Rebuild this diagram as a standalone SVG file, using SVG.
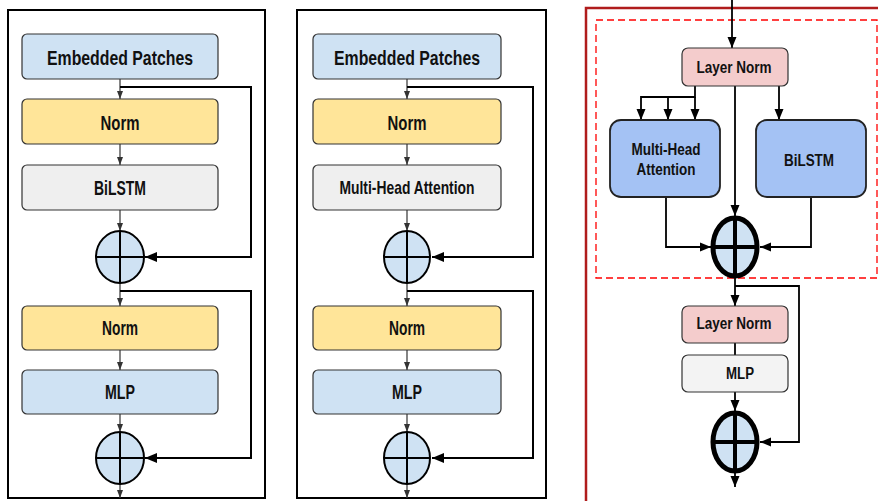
<svg xmlns="http://www.w3.org/2000/svg" width="878" height="501" viewBox="0 0 878 501">
<defs>
<style>
.panel{fill:#fff;stroke:#000;stroke-width:2}
.box{stroke:#333;stroke-width:1.2}
.blue{fill:#cfe2f3}
.yel{fill:#ffe599}
.gray{fill:#efefef}
.pink{fill:#f4cccc}
.mid{fill:#a4c2f4}
.t{font-family:"Liberation Sans",Arial,sans-serif;font-weight:bold;fill:#111;text-anchor:middle}
.big{font-size:21px}
.sm{font-size:16px}
.thin{fill:none;stroke:#333;stroke-width:1.2}
.fb{fill:none;stroke:#000;stroke-width:2}
.rl{fill:none;stroke:#000;stroke-width:1.8}
.circ{fill:#cfe2f3;stroke:#000;stroke-width:2}
.cross{stroke:#000;stroke-width:2}
.circB{fill:#cfe2f3;stroke:#000;stroke-width:5}
.crossB{stroke:#000;stroke-width:4}
</style>
<marker id="as" markerUnits="userSpaceOnUse" markerWidth="8" markerHeight="8" viewBox="0 0 8 8" refX="8" refY="4" orient="auto"><path d="M0,1 L8,4 L0,7 Z" fill="#333"/></marker>
<marker id="ab" markerUnits="userSpaceOnUse" markerWidth="12" markerHeight="12" viewBox="0 0 12 12" refX="12" refY="6" orient="auto"><path d="M0,1 L12,6 L0,11 Z" fill="#000"/></marker>
<marker id="ar" markerUnits="userSpaceOnUse" markerWidth="11" markerHeight="11" viewBox="0 0 11 11" refX="11" refY="5.5" orient="auto"><path d="M0,1 L11,5.5 L0,10 Z" fill="#000"/></marker>
</defs>

<!-- Panel frames -->
<rect x="8" y="10" width="257" height="488" class="panel"/>
<rect x="297" y="10" width="249" height="488" class="panel"/>
<rect x="586" y="8" width="300" height="500" fill="#fff" stroke="#b01c1c" stroke-width="2.5"/>
<rect x="596" y="20" width="281" height="258" fill="none" stroke="#ff0000" stroke-width="1.3" stroke-dasharray="7,4"/>

<!-- Connectors -->
<g id="connectors">
  <line x1="120" y1="79" x2="120" y2="99" class="thin" marker-end="url(#as)"/>
  <line x1="120" y1="144" x2="120" y2="165" class="thin" marker-end="url(#as)"/>
  <line x1="120" y1="210" x2="120" y2="231" class="thin" marker-end="url(#as)"/>
  <line x1="120" y1="283" x2="120" y2="306" class="thin" marker-end="url(#as)"/>
  <line x1="120" y1="350" x2="120" y2="370" class="thin" marker-end="url(#as)"/>
  <line x1="120" y1="414" x2="120" y2="432" class="thin" marker-end="url(#as)"/>
  <line x1="120" y1="484" x2="120" y2="498" class="thin" marker-end="url(#as)"/>
  <path d="M120,87 H251 V257 H145" class="fb" marker-end="url(#ab)"/>
  <path d="M120,291 H251 V458 H145" class="fb" marker-end="url(#ab)"/>
  <line x1="407" y1="79" x2="407" y2="99" class="thin" marker-end="url(#as)"/>
  <line x1="407" y1="144" x2="407" y2="165" class="thin" marker-end="url(#as)"/>
  <line x1="407" y1="210" x2="407" y2="231" class="thin" marker-end="url(#as)"/>
  <line x1="407" y1="283" x2="407" y2="306" class="thin" marker-end="url(#as)"/>
  <line x1="407" y1="350" x2="407" y2="370" class="thin" marker-end="url(#as)"/>
  <line x1="407" y1="414" x2="407" y2="432" class="thin" marker-end="url(#as)"/>
  <line x1="407" y1="484" x2="407" y2="498" class="thin" marker-end="url(#as)"/>
  <path d="M407,87 H533 V257 H432" class="fb" marker-end="url(#ab)"/>
  <path d="M407,291 H533 V458 H432" class="fb" marker-end="url(#ab)"/>
  <line x1="732" y1="0" x2="732" y2="48" class="rl" marker-end="url(#ar)"/>
  <path d="M695,86 V97 H641 V120" class="rl" marker-end="url(#ar)"/>
  <line x1="668" y1="97" x2="668" y2="120" class="rl" marker-end="url(#ar)"/>
  <line x1="695" y1="97" x2="695" y2="120" class="rl" marker-end="url(#ar)"/>
  <line x1="779" y1="86" x2="779" y2="120" class="rl" marker-end="url(#ar)"/>
  <line x1="735" y1="86" x2="735" y2="216" class="rl" marker-end="url(#ar)"/>
  <path d="M666,197 V247 H711" class="rl" marker-end="url(#ar)"/>
  <path d="M811,197 V247 H760" class="rl" marker-end="url(#ar)"/>
  <line x1="735" y1="278" x2="735" y2="306" class="rl" marker-end="url(#ar)"/>
  <path d="M735,286 H799 V442 H760" class="rl" marker-end="url(#ar)"/>
  <line x1="735" y1="343" x2="735" y2="355" class="rl"/>
  <line x1="735" y1="392" x2="735" y2="411" class="rl" marker-end="url(#ar)"/>
  <line x1="735" y1="472" x2="735" y2="487" class="rl" marker-end="url(#ar)"/>
</g>

<!-- Left panel nodes -->
<g id="l-embed"><rect x="22" y="34" width="196" height="45" rx="5" class="box blue"/><text x="120" y="65" class="t big" textLength="146" lengthAdjust="spacingAndGlyphs">Embedded Patches</text></g>
<g id="l-norm1"><rect x="22" y="99" width="196" height="45" rx="5" class="box yel"/><text x="120" y="130" class="t big" textLength="39" lengthAdjust="spacingAndGlyphs">Norm</text></g>
<g id="l-bilstm"><rect x="22" y="165" width="196" height="45" rx="5" class="box gray"/><text x="120" y="195" class="t big" textLength="52" lengthAdjust="spacingAndGlyphs">BiLSTM</text></g>
<g id="l-add1"><ellipse cx="120" cy="257" rx="24" ry="26" class="circ"/><line x1="96" y1="257" x2="144" y2="257" class="cross"/><line x1="120" y1="231" x2="120" y2="283" class="cross"/></g>
<g id="l-norm2"><rect x="22" y="306" width="196" height="44" rx="5" class="box yel"/><text x="120" y="335" class="t big" textLength="36" lengthAdjust="spacingAndGlyphs">Norm</text></g>
<g id="l-mlp"><rect x="22" y="370" width="196" height="44" rx="5" class="box blue"/><text x="120" y="399" class="t big" textLength="30" lengthAdjust="spacingAndGlyphs">MLP</text></g>
<g id="l-add2"><ellipse cx="120" cy="458" rx="24" ry="26" class="circ"/><line x1="96" y1="458" x2="144" y2="458" class="cross"/><line x1="120" y1="432" x2="120" y2="484" class="cross"/></g>

<!-- Middle panel nodes -->
<g id="m-embed"><rect x="313" y="34" width="188" height="45" rx="5" class="box blue"/><text x="407" y="65" class="t big" textLength="146" lengthAdjust="spacingAndGlyphs">Embedded Patches</text></g>
<g id="m-norm1"><rect x="313" y="99" width="188" height="45" rx="5" class="box yel"/><text x="407" y="130" class="t big" textLength="39" lengthAdjust="spacingAndGlyphs">Norm</text></g>
<g id="m-mha"><rect x="313" y="165" width="188" height="45" rx="5" class="box gray"/><text x="407" y="194" class="t" font-size="19" textLength="135" lengthAdjust="spacingAndGlyphs">Multi-Head Attention</text></g>
<g id="m-add1"><ellipse cx="407" cy="257" rx="23" ry="26" class="circ"/><line x1="384" y1="257" x2="430" y2="257" class="cross"/><line x1="407" y1="231" x2="407" y2="283" class="cross"/></g>
<g id="m-norm2"><rect x="313" y="306" width="188" height="44" rx="5" class="box yel"/><text x="407" y="335" class="t big" textLength="36" lengthAdjust="spacingAndGlyphs">Norm</text></g>
<g id="m-mlp"><rect x="313" y="370" width="188" height="44" rx="5" class="box blue"/><text x="407" y="399" class="t big" textLength="30" lengthAdjust="spacingAndGlyphs">MLP</text></g>
<g id="m-add2"><ellipse cx="407" cy="458" rx="23" ry="26" class="circ"/><line x1="384" y1="458" x2="430" y2="458" class="cross"/><line x1="407" y1="432" x2="407" y2="484" class="cross"/></g>

<!-- Right panel nodes -->
<g id="r-ln1"><rect x="682" y="48" width="106" height="38" rx="6" class="box pink"/><text x="734" y="73" class="t sm" textLength="75" lengthAdjust="spacingAndGlyphs">Layer Norm</text></g>
<g id="r-mha"><rect x="610" y="120" width="110" height="77" rx="11" stroke="#222" stroke-width="1.8" class="mid"/><text x="666" y="155" class="t sm" textLength="69" lengthAdjust="spacingAndGlyphs">Multi-Head</text><text x="666" y="175" class="t sm" textLength="59" lengthAdjust="spacingAndGlyphs">Attention</text></g>
<g id="r-bilstm"><rect x="756" y="120" width="110" height="77" rx="11" stroke="#222" stroke-width="1.8" class="mid"/><text x="809" y="166" class="t sm" textLength="50" lengthAdjust="spacingAndGlyphs">BiLSTM</text></g>
<g id="r-add1"><ellipse cx="735" cy="247" rx="22" ry="29" class="circB"/><line x1="713" y1="247" x2="757" y2="247" class="crossB"/><line x1="735" y1="218" x2="735" y2="276" class="crossB"/></g>
<g id="r-ln2"><rect x="682" y="306" width="106" height="37" rx="6" class="box pink"/><text x="734" y="329" class="t sm" textLength="75" lengthAdjust="spacingAndGlyphs">Layer Norm</text></g>
<g id="r-mlp"><rect x="682" y="355" width="106" height="37" rx="6" class="box" fill="#f3f3f3"/><text x="740" y="379" class="t sm" textLength="28" lengthAdjust="spacingAndGlyphs">MLP</text></g>
<g id="r-add2"><ellipse cx="735" cy="442" rx="22" ry="29" class="circB"/><line x1="713" y1="442" x2="757" y2="442" class="crossB"/><line x1="735" y1="413" x2="735" y2="471" class="crossB"/></g>
</svg>
